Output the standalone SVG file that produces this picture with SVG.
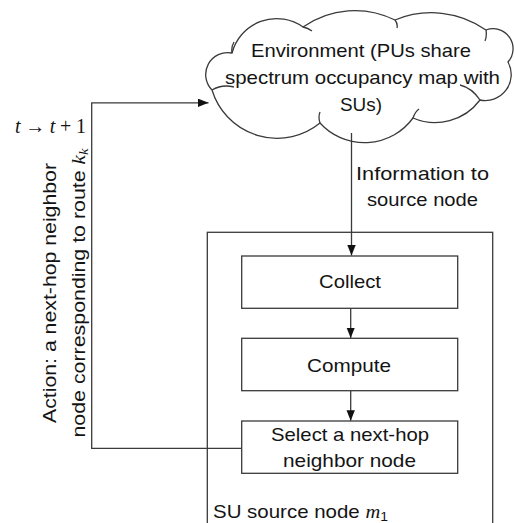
<svg xmlns="http://www.w3.org/2000/svg" width="514" height="523" viewBox="0 0 514 523">
<defs>
<style>
.ln{fill:none;stroke:#3a3a3a;stroke-width:1.3}
.box{fill:#fff;stroke:#3a3a3a;stroke-width:1.3}
.t{font-family:"Liberation Sans",Arial,sans-serif;font-size:19px;fill:#141414}
.m{font-family:"Liberation Serif","Times New Roman",serif;font-style:italic}
</style>
<marker id="ah" markerUnits="userSpaceOnUse" markerWidth="11" markerHeight="9" refX="10.5" refY="4.2" orient="auto" viewBox="0 0 11 9">
<path d="M0,0 L10.5,4.2 L0,8.4 Z" fill="#111"/>
</marker>
</defs>
<rect width="514" height="523" fill="#fff"/>

<g id="su-source-node">
<rect x="207.3" y="232.3" width="285.4" height="300" class="ln"/>
<text class="t" x="213" y="518" textLength="175" lengthAdjust="spacingAndGlyphs">SU source node <tspan class="m">m</tspan><tspan font-size="13" dy="3">1</tspan></text>
</g>

<g id="environment">
<path class="box" d="M212,90 A22,22 0 0 1 232,53 A46,46 0 0 1 303,27 A90,90 0 0 1 395,20 A95,95 0 0 1 486,30 A20,20 0 0 1 508,62 A26,26 0 0 1 480,100 A56,56 0 0 1 413,118 A60,60 0 0 1 320,123 A68,68 0 0 1 212,90 Z"/>
<path class="ln" d="M212,90 Q222,84 234,87 M232,53 Q231,47 234,42 M303,27 Q308,28 312,31 M395,20 Q398,24 397,28 M486,30 Q487,36 485,41 M480,100 Q472,88 460,85 M413,118 Q415,112 419,109 M320,123 Q318,117 320,112"/>
<text class="t" text-anchor="middle" x="361" y="57" textLength="220" lengthAdjust="spacingAndGlyphs">Environment (PUs share</text>
<text class="t" text-anchor="middle" x="362.5" y="84" textLength="275" lengthAdjust="spacingAndGlyphs">spectrum occupancy map with</text>
<text class="t" text-anchor="middle" x="361" y="111" textLength="42" lengthAdjust="spacingAndGlyphs">SUs)</text>
</g>

<g id="collect">
<rect class="box" x="241.7" y="256" width="216" height="52.3"/>
<text class="t" text-anchor="middle" x="350" y="288" textLength="62" lengthAdjust="spacingAndGlyphs">Collect</text>
</g>

<g id="compute">
<rect class="box" x="241.7" y="338.3" width="216" height="52.4"/>
<text class="t" text-anchor="middle" x="349" y="372" textLength="84" lengthAdjust="spacingAndGlyphs">Compute</text>
</g>

<g id="select">
<rect class="box" x="241.7" y="421" width="216" height="52.3"/>
<text class="t" text-anchor="middle" x="350" y="441" textLength="158" lengthAdjust="spacingAndGlyphs">Select a next-hop</text>
<text class="t" text-anchor="middle" x="349.5" y="467" textLength="133" lengthAdjust="spacingAndGlyphs">neighbor node</text>
</g>

<g id="connectors">
<line class="ln" x1="351.5" y1="133" x2="351.5" y2="255.5" marker-end="url(#ah)"/>
<line class="ln" x1="350.7" y1="308.3" x2="350.7" y2="338" marker-end="url(#ah)"/>
<line class="ln" x1="350.7" y1="390.7" x2="350.7" y2="420.7" marker-end="url(#ah)"/>
<polyline class="ln" points="241.7,448.3 91.7,448.3 91.7,102.8 208.5,102.8" marker-end="url(#ah)"/>
<text class="t" text-anchor="middle" x="422.5" y="180" textLength="133" lengthAdjust="spacingAndGlyphs">Information to</text>
<text class="t" text-anchor="middle" x="422.5" y="206" textLength="111" lengthAdjust="spacingAndGlyphs">source node</text>
<text font-family="'Liberation Serif','Times New Roman',serif" font-size="20" fill="#141414" x="15" y="133" textLength="71"><tspan font-style="italic">t</tspan> → <tspan font-style="italic">t</tspan> + 1</text>
<g transform="translate(56,293) rotate(-90)">
<text class="t" text-anchor="middle" x="0" y="0" textLength="260" lengthAdjust="spacingAndGlyphs">Action: a next-hop neighbor</text>
<text class="t" text-anchor="middle" x="0" y="28.5" textLength="289" lengthAdjust="spacingAndGlyphs">node corresponding to route <tspan class="m">k</tspan><tspan class="m" font-size="13" dy="3">k</tspan></text>
</g>
</g>
</svg>
